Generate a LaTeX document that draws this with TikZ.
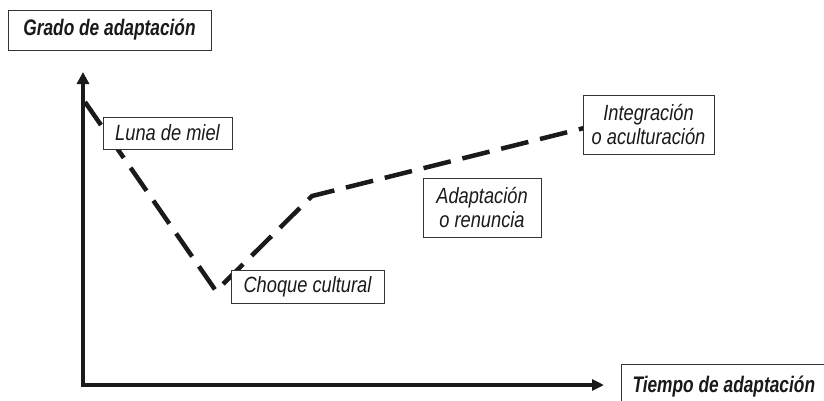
\documentclass[tikz,border=0pt]{standalone}
\usepackage{fontspec}
\setmainfont{Liberation Sans}
\newfontfamily\condfont[FakeStretch=0.77]{Liberation Sans}
\newfontfamily\labfont[FakeStretch=0.83]{Liberation Sans}
\usetikzlibrary{arrows.meta}
\definecolor{ink}{HTML}{1A1A1A}
\definecolor{boxline}{HTML}{333333}
\tikzset{
  lbl/.style={draw=boxline, line width=1pt, fill=white, text=ink, inner sep=0pt,
    align=center, font=\labfont\fontsize{22}{23.5}\selectfont\itshape},
  titlebox/.style={draw=boxline, line width=1pt, fill=white, text=ink, inner sep=0pt,
    font=\condfont\fontsize{22.5}{24}\selectfont\bfseries\itshape},
  axisline/.style={draw=ink, line width=4pt, line join=miter,
    {Triangle[length=12pt,width=12pt]}-{Triangle[length=12pt,width=11pt]}},
  dashline/.style={draw=ink, line width=4.5pt, line join=miter,
    dash pattern=on 28pt off 12pt}
}
\begin{document}
\begin{tikzpicture}[x=1pt,y=-1pt]
\useasboundingbox (0,0) rectangle (824,400);
\clip (0,0) rectangle (824,400);
% axes
\coordinate (ytop) at (83,72);
\coordinate (orig) at (83,385);
\coordinate (xend) at (604,385);
\draw[axisline] (ytop) -- (orig) -- (xend);
% curve
\coordinate (c0) at (85,102);
\coordinate (c1) at (216,291);
\coordinate (c2) at (312,196);
\coordinate (c3) at (584,128);
\draw[dashline] (c0) -- (c1) -- (c2) -- (c3);
% labels
\node[titlebox, minimum width=203pt, minimum height=40pt] (grado) at (109.5,30) {Grado de adaptación};
\node[lbl, minimum width=129pt, minimum height=32pt] (luna) at (167.5,133) {Luna de miel};
\node[lbl, minimum width=153pt, minimum height=33pt] (choque) at (307.5,286.5) {Choque cultural};
\node[lbl, minimum width=118pt, minimum height=59pt] (adapt) at (482,207.5) {Adaptación\\o renuncia};
\node[lbl, minimum width=131pt, minimum height=59pt] (integ) at (648.5,124.5) {Integración\\o aculturación};
\draw[draw=boxline, line width=1pt, fill=white] (621,364) rectangle (840,420);
\node[titlebox, draw=none, fill=none, anchor=base west] (tiempo) at (632,392) {Tiempo de adaptación};
\end{tikzpicture}
\end{document}
